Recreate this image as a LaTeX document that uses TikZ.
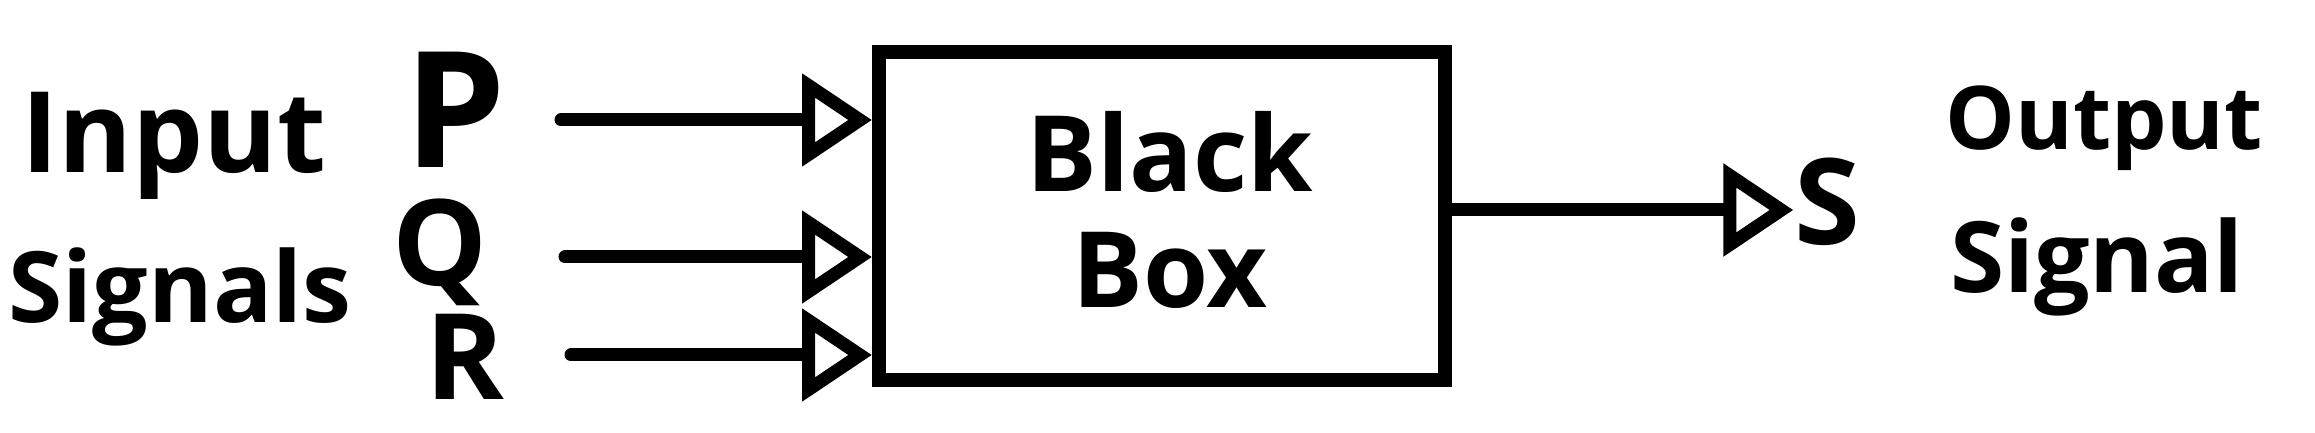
\documentclass[tikz,border=0pt]{standalone}
\usepackage{fontspec}
\setmainfont{Open Sans}
\usetikzlibrary{arrows.meta}
\tikzset{
  hand/.style={inner sep=0pt, font=\bfseries\fontsize{28}{34}\selectfont},
  big/.style={inner sep=0pt, font=\bfseries\fontsize{34}{40}\selectfont},
  sig/.style={line width=1.3mm, line cap=round, -{Triangle[open, length=7mm, width=9mm]}},
  box/.style={draw, line width=1.4mm, minimum width=56.6mm, minimum height=32.8mm, inner sep=0pt}
}
\begin{document}
\begin{tikzpicture}[x=0.1mm, y=0.1mm, yscale=-1, xscale=1]
\useasboundingbox (0, 0) rectangle (2315, 433);
%Text
\node (inp) [hand, anchor=base, font=\bfseries\fontsize{32}{38}\selectfont] at (174, 173) {Input};
\node (sigs) [hand, anchor=base] at (180, 322) {Signals};
\node (p) [hand, anchor=base, font=\bfseries\fontsize{46}{50}\selectfont] at (455, 168) {P};
\node (q) [big, anchor=base] at (440, 286) {Q};
\node (r) [big, anchor=base] at (465, 400) {R};
\node (bbox) [box] at (1162, 216) {};
\node (bbtext) [hand, align=center, font=\bfseries\fontsize{30}{33}\selectfont] at (1170, 210) {Black\\Box};
\node (s) [big, anchor=base] at (1827, 245) {S};
\node (outp) [hand, anchor=base, font=\bfseries\fontsize{25}{30}\selectfont] at (2104, 150) {Output};
\node (osig) [hand, anchor=base] at (2097, 293) {Signal};
%Arrows
\coordinate (p in) at (561, 120);
\coordinate (q in) at (565, 257);
\coordinate (r in) at (571, 355);
\draw [sig] (p in) -- (p in -| bbox.west);
\draw [sig] (q in) -- (q in -| bbox.west);
\draw [sig] (r in) -- (r in -| bbox.west);
\draw [sig] ([yshift=-0.6mm]bbox.east) -- ([yshift=-0.6mm]bbox.east -| s.west);
\end{tikzpicture}
\end{document}
